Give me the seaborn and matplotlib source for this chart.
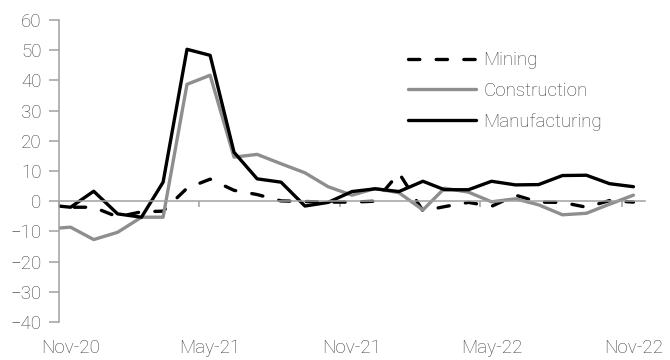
import matplotlib
matplotlib.use("Agg")
import matplotlib.pyplot as plt
import matplotlib.dates as mdates
import numpy as np
import pandas as pd
import seaborn as sns

# Monthly % change, Oct-2020 .. Nov-2022
months = pd.date_range("2020-10-01", periods=26, freq="MS")
mining = [-1.5, -2.0, -2.0, -5.2, -3.5, -3.3, 4.3, 7.3, 3.6, 2.2, 0.1, -0.1, -0.3,
          -0.3, 0.0, 9.3, -3.2, -1.8, -0.4, -1.7, 2.0, -0.3, -0.4, -2.0, 0.2, -0.3]
construction = [-9.2, -8.6, -12.7, -10.3, -5.3, -5.3, 38.7, 41.7, 14.6, 15.5, 12.4, 9.4, 4.8,
                2.0, 4.2, 2.8, -2.9, 4.3, 3.0, -0.2, 0.8, -1.2, -4.5, -4.0, -1.0, 2.0]
manufacturing = [-1.2, -2.0, 3.3, -4.2, -5.3, 6.3, 50.3, 48.3, 16.2, 7.4, 6.3, -1.6, -0.4,
                 3.2, 4.1, 3.2, 6.6, 3.8, 3.8, 6.6, 5.4, 5.5, 8.5, 8.6, 5.8, 4.8]
series_names = ["Mining", "Construction", "Manufacturing"]
tick_labels = ["Nov-20", "May-21", "Nov-21", "May-22", "Nov-22"]
y_ticks = list(range(-40, 61, 10))

# each month plotted at the middle of its slot
mid = months + pd.Timedelta(days=15)
df = pd.concat([
    pd.DataFrame({"date": mid, "value": vals, "series": name})
    for name, vals in zip(series_names, [mining, construction, manufacturing])
], ignore_index=True)

sns.set_theme(style="white")
text_col = "#404040"
axis_col = "#A0A0A0"
plt.rcParams["font.family"] = ["Roboto", "DejaVu Sans"]
plt.rcParams["font.weight"] = "light"
plt.rcParams["text.color"] = text_col
plt.rcParams["xtick.color"] = axis_col
plt.rcParams["ytick.color"] = axis_col
plt.rcParams["xtick.labelcolor"] = text_col
plt.rcParams["ytick.labelcolor"] = text_col

fig = plt.figure(figsize=(6.7, 3.6), dpi=100)
ax = fig.add_axes([59 / 670, 1 - 322 / 360, 586 / 670, 302 / 360])

lw = 2.4
sns.lineplot(
    data=df, x="date", y="value", hue="series", style="series",
    hue_order=series_names, style_order=series_names,
    palette={"Mining": "black", "Construction": "#8E8E8E", "Manufacturing": "black"},
    dashes={"Mining": (3.4, 4.9), "Construction": "", "Manufacturing": ""},
    linewidth=lw, dash_capstyle="round", solid_joinstyle="round",
    ax=ax,
)

ax.set_xlim(pd.Timestamp("2020-11-01"), pd.Timestamp("2022-12-01"))
ax.set_ylim(-40, 60)
ax.set_xlabel("")
ax.set_ylabel("")

# y axis
ax.set_yticks(y_ticks)
ax.tick_params(axis="y", direction="out", length=7.2, width=1.1, pad=5.5,
               labelsize=13.5, left=True)
ax.spines["left"].set_color(axis_col)
ax.spines["left"].set_linewidth(1.1)

# x axis line through zero with half-year tick marks
tick_dates = pd.date_range("2020-11-01", periods=5, freq="6MS")
ax.spines["bottom"].set_position(("data", 0))
ax.spines["bottom"].set_color(axis_col)
ax.spines["bottom"].set_linewidth(1.1)
ax.set_xticks(tick_dates)
ax.tick_params(axis="x", direction="out", length=4.5, width=1.1, labelbottom=False,
               bottom=True)
ax.spines["top"].set_visible(False)
ax.spines["right"].set_visible(False)

# month labels along the bottom of the plot area
sec = ax.secondary_xaxis("bottom")
sec.set_xticks(mdates.date2num(tick_dates + pd.Timedelta(days=15)), tick_labels)
sec.tick_params(axis="x", length=0, pad=12, labelsize=13.5, labelcolor=text_col)
sec.spines["bottom"].set_visible(False)

sns.move_legend(
    ax, "upper left", bbox_to_anchor=(0.596, 0.897), frameon=False, title=None,
    fontsize=13.5, handlelength=3.6, handletextpad=0.4, labelspacing=0.69, borderpad=0,
    borderaxespad=0,
)
for line in ax.get_legend().get_lines():
    line.set_linewidth(lw)

fig.savefig("out.png", dpi=100)
